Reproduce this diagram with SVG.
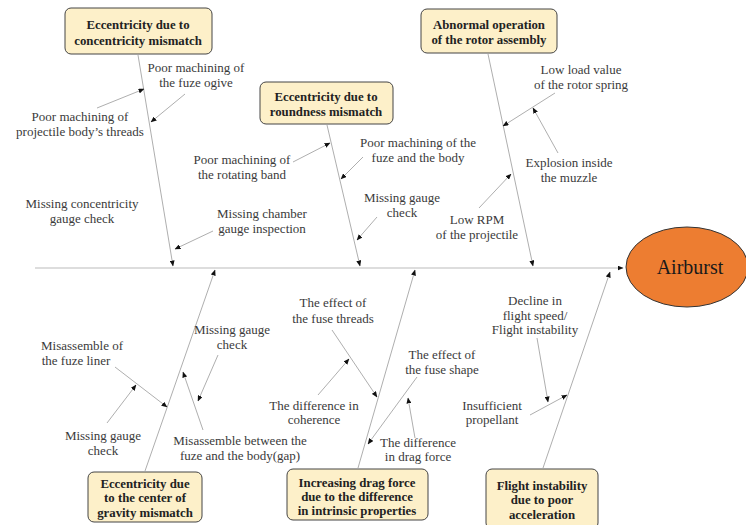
<svg xmlns="http://www.w3.org/2000/svg" width="746" height="525" viewBox="0 0 746 525">
<defs>
<marker id="ah" markerWidth="6" markerHeight="5" refX="5.5" refY="2.5" orient="auto" markerUnits="userSpaceOnUse">
<path d="M0,0 L6,2.5 L0,5 Z" fill="#111"/>
</marker>
</defs>
<style>
.lbl{font-family:"Liberation Serif","DejaVu Serif",serif;font-size:13px;fill:#3a3a3a;text-anchor:middle}
.bt{font-family:"Liberation Serif","DejaVu Serif",serif;font-size:12.8px;font-weight:bold;fill:#222;text-anchor:middle}
.box{fill:#fdf0c9;stroke:#444;stroke-width:1}
.ln{stroke:#999;stroke-width:0.8;fill:none;marker-end:url(#ah)}
.spine{stroke:#bbb;stroke-width:1.2;fill:none;marker-end:url(#ah)}
</style>
<rect width="746" height="525" fill="#fff"/>

<g id="connectors">
<line class="spine" x1="35" y1="268" x2="623" y2="268"/>
<line class="ln" x1="138" y1="55" x2="173" y2="266"/>
<line class="ln" x1="327" y1="125" x2="360" y2="266"/>
<line class="ln" x1="488" y1="54" x2="533" y2="266"/>
<line class="ln" x1="145" y1="471" x2="215" y2="270"/>
<line class="ln" x1="358" y1="468" x2="415" y2="270"/>
<line class="ln" x1="543" y1="468" x2="610" y2="272"/>
<line class="ln" x1="97" y1="108" x2="144" y2="89"/>
<line class="ln" x1="185" y1="94" x2="151" y2="122"/>
<line class="ln" x1="213" y1="231" x2="175" y2="249"/>
<line class="ln" x1="293" y1="162" x2="330" y2="143"/>
<line class="ln" x1="363" y1="157" x2="341" y2="179"/>
<line class="ln" x1="377" y1="217" x2="357" y2="240"/>
<line class="ln" x1="555" y1="93" x2="503" y2="126"/>
<line class="ln" x1="558" y1="153" x2="533" y2="108"/>
<line class="ln" x1="479" y1="208" x2="511" y2="174"/>
<line class="ln" x1="218" y1="355" x2="198" y2="401"/>
<line class="ln" x1="203" y1="430" x2="183" y2="372"/>
<line class="ln" x1="115" y1="367" x2="167" y2="407"/>
<line class="ln" x1="107" y1="423" x2="136" y2="385"/>
<line class="ln" x1="332" y1="330" x2="377" y2="397"/>
<line class="ln" x1="318" y1="395" x2="349" y2="359"/>
<line class="ln" x1="417" y1="377" x2="368" y2="444"/>
<line class="ln" x1="415" y1="438" x2="408" y2="398"/>
<line class="ln" x1="537" y1="338" x2="548" y2="402"/>
<line class="ln" x1="530" y1="415" x2="567" y2="395"/>
</g>

<g id="airburst">
<ellipse cx="687" cy="267" rx="61" ry="40" fill="#ed7d31" stroke="#333" stroke-width="1"/>
<text x="690" y="274" style="font-family:'Liberation Serif','DejaVu Serif',serif;font-size:20px;fill:#1a1a1a;text-anchor:middle">Airburst</text>
</g>

<g id="box-concentricity">
<rect class="box" x="65" y="8" width="147" height="46" rx="6"/>
<text class="bt" x="138" y="29">Eccentricity due to</text>
<text class="bt" x="138" y="45">concentricity mismatch</text>
</g>
<g id="box-roundness">
<rect class="box" x="260" y="82" width="133" height="42" rx="6"/>
<text class="bt" x="326" y="101">Eccentricity due to</text>
<text class="bt" x="326" y="116">roundness mismatch</text>
</g>
<g id="box-rotor">
<rect class="box" x="421" y="9" width="136" height="44" rx="6"/>
<text class="bt" x="489" y="29">Abnormal operation</text>
<text class="bt" x="489" y="44">of the rotor assembly</text>
</g>
<g id="box-gravity">
<rect class="box" x="88" y="472" width="114" height="50" rx="6"/>
<text class="bt" x="145" y="488">Eccentricity due</text>
<text class="bt" x="145" y="502">to the center of</text>
<text class="bt" x="145" y="517">gravity mismatch</text>
</g>
<g id="box-drag">
<rect class="box" x="287" y="469" width="141" height="51" rx="6"/>
<text class="bt" x="357" y="487">Increasing drag force</text>
<text class="bt" x="357" y="501">due to the difference</text>
<text class="bt" x="357" y="515">in intrinsic properties</text>
</g>
<g id="box-flight">
<rect class="box" x="486" y="469" width="112" height="60" rx="6"/>
<text class="bt" x="542" y="490">Flight instability</text>
<text class="bt" x="542" y="504">due to poor</text>
<text class="bt" x="542" y="519">acceleration</text>
</g>

<g id="label-fuze-ogive"><text class="lbl" x="196" y="72">Poor machining of</text><text class="lbl" x="196" y="87">the fuze ogive</text></g>
<g id="label-threads"><text class="lbl" x="80" y="121">Poor machining of</text><text class="lbl" x="80" y="136">projectile body’s threads</text></g>
<g id="label-concentricity-check"><text class="lbl" x="82" y="208">Missing concentricity</text><text class="lbl" x="82" y="223">gauge check</text></g>
<g id="label-chamber"><text class="lbl" x="262" y="218">Missing chamber</text><text class="lbl" x="262" y="233">gauge inspection</text></g>
<g id="label-rotating-band"><text class="lbl" x="242" y="164">Poor machining of</text><text class="lbl" x="242" y="179">the rotating band</text></g>
<g id="label-fuze-body"><text class="lbl" x="418" y="147">Poor machining of the</text><text class="lbl" x="418" y="162">fuze and the body</text></g>
<g id="label-gauge-top"><text class="lbl" x="402" y="202">Missing gauge</text><text class="lbl" x="402" y="217">check</text></g>
<g id="label-rotor-spring"><text class="lbl" x="581" y="74">Low load value</text><text class="lbl" x="581" y="89">of the rotor spring</text></g>
<g id="label-muzzle"><text class="lbl" x="569" y="167">Explosion inside</text><text class="lbl" x="569" y="182">the muzzle</text></g>
<g id="label-rpm"><text class="lbl" x="477" y="224">Low RPM</text><text class="lbl" x="477" y="239">of the projectile</text></g>

<g id="label-fuse-threads"><text class="lbl" x="333" y="307">The effect of</text><text class="lbl" x="333" y="323">the fuse threads</text></g>
<g id="label-gauge-bottom1"><text class="lbl" x="232" y="334">Missing gauge</text><text class="lbl" x="232" y="349">check</text></g>
<g id="label-fuze-liner"><text class="lbl" x="82" y="350">Misassemble of</text><text class="lbl" x="76" y="365">the fuze liner</text></g>
<g id="label-fuse-shape"><text class="lbl" x="442" y="359">The effect of</text><text class="lbl" x="442" y="374">the fuse shape</text></g>
<g id="label-decline"><text class="lbl" x="535" y="305">Decline in</text><text class="lbl" x="535" y="320">flight speed/</text><text class="lbl" x="535" y="334">Flight instability</text></g>
<g id="label-coherence"><text class="lbl" x="314" y="410">The difference in</text><text class="lbl" x="314" y="424">coherence</text></g>
<g id="label-propellant"><text class="lbl" x="492" y="410">Insufficient</text><text class="lbl" x="492" y="424">propellant</text></g>
<g id="label-gauge-bottom2"><text class="lbl" x="103" y="440">Missing gauge</text><text class="lbl" x="103" y="455">check</text></g>
<g id="label-gap"><text class="lbl" x="240" y="445">Misassemble between the</text><text class="lbl" x="240" y="460">fuze and the body(gap)</text></g>
<g id="label-drag-force"><text class="lbl" x="418" y="447">The difference</text><text class="lbl" x="418" y="461">in drag force</text></g>
</svg>
